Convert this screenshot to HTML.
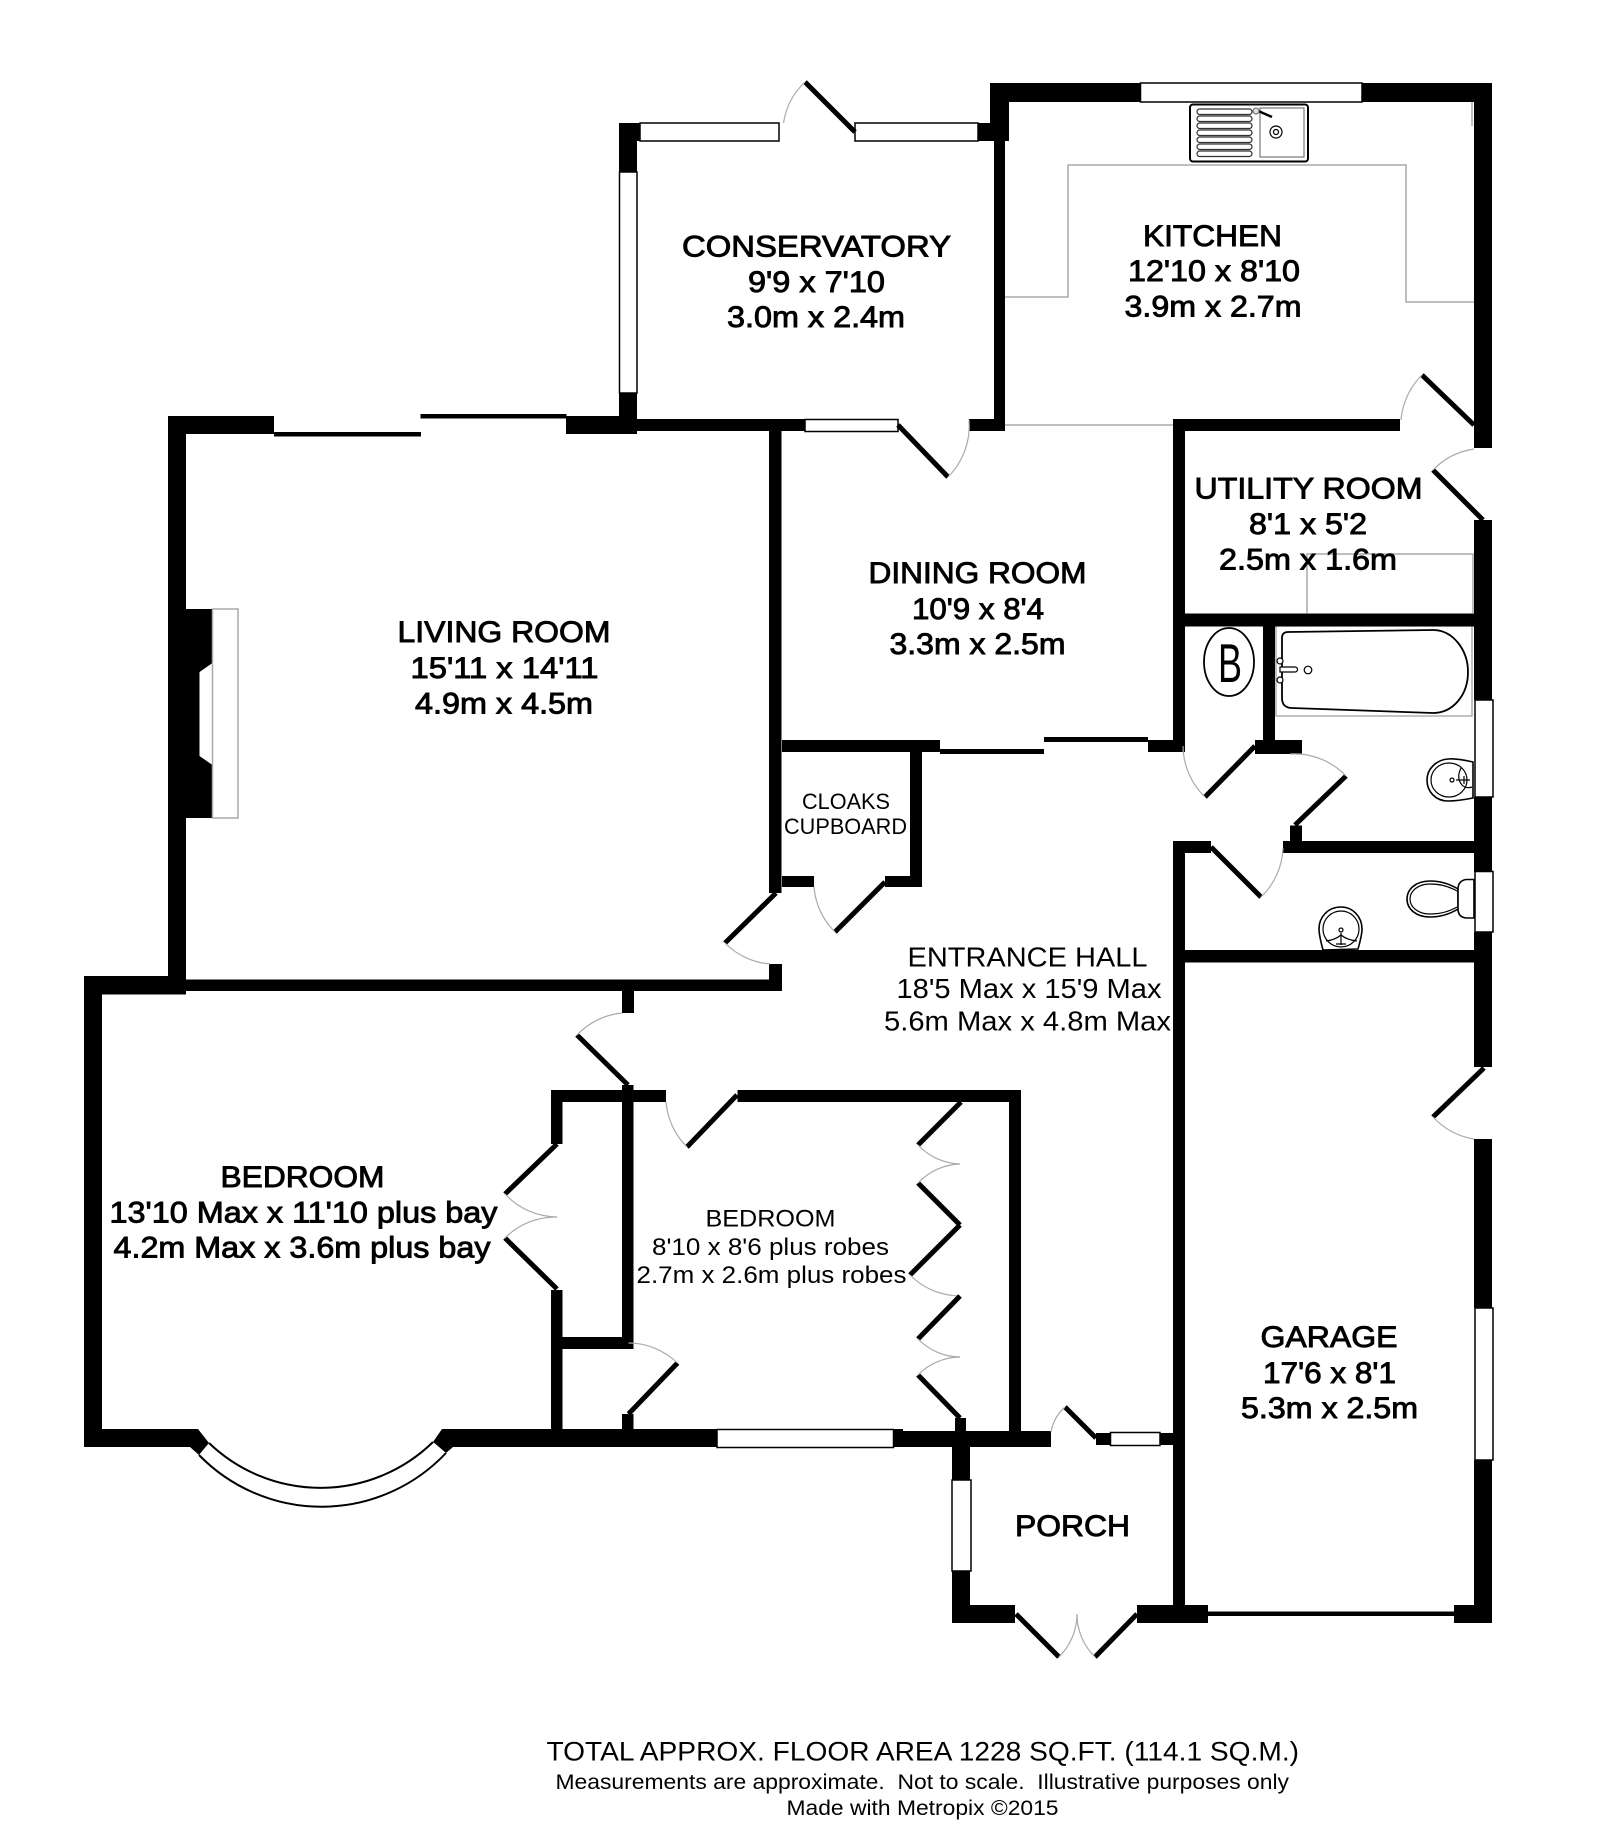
<!DOCTYPE html>
<html lang="en">
<head>
<meta charset="utf-8">
<title>Floor plan</title>
<style>
html,body{margin:0;padding:0;background:#fff}
svg{display:block}
text{font-family:"Liberation Sans",Arial,sans-serif;fill:#000}
.s{stroke:#000;stroke-width:.9}
.l{stroke:#000;stroke-width:5;fill:none}
.a{stroke:#aaa;stroke-width:1.2;fill:none}
.w{fill:#fff;stroke:#000;stroke-width:1.5}
.g{stroke:#aaa;stroke-width:1.5;fill:none}
.f{fill:#fff;stroke:#000;stroke-width:1.6}
.t{fill:none;stroke:#000;stroke-width:1.2}
</style>
</head>
<body>
<svg width="1600" height="1826" viewBox="0 0 1600 1826" xmlns="http://www.w3.org/2000/svg">
<rect width="1600" height="1826" fill="#fff"/>

<!-- grey worktops -->
<path class="g" d="M1005 297H1068V165H1406V302H1474"/>
<path class="g" d="M1472 102V126"/>
<path class="g" d="M1001 425H1178"/>
<path class="g" d="M1307 613V554H1473V613"/>
<rect x="1276" y="626" width="196" height="90" fill="#fff" stroke="#999" stroke-width="1.2"/>

<!-- walls -->
<g fill="#000">
<!-- kitchen -->
<rect x="990" y="83" width="150" height="19"/>
<rect x="1362" y="83" width="130" height="19"/>
<rect x="990" y="83" width="19" height="58"/>
<rect x="994" y="141" width="11" height="290"/>
<!-- conservatory -->
<rect x="619" y="123" width="21" height="18"/>
<rect x="978" y="123" width="31" height="18"/>
<rect x="619" y="123" width="18" height="50"/>
<rect x="619" y="393" width="18" height="40"/>
<!-- main horizontal band -->
<rect x="637" y="419" width="168" height="12"/>
<rect x="969" y="419" width="36" height="12"/>
<rect x="1173" y="419" width="227" height="12"/>
<!-- living room -->
<rect x="168" y="416" width="106" height="18"/>
<rect x="566" y="416" width="71" height="18"/>
<rect x="168" y="416" width="18" height="578"/>
<rect x="274" y="432" width="147" height="4.5"/>
<rect x="420.500" y="414" width="146" height="4.500"/>
<polygon points="186,609 212.500,609 212.500,663 199.500,672 199.500,756 212.500,765 212.500,818 186,818"/>
<rect x="186" y="979.500" width="596" height="11.500"/>
<rect x="769" y="431" width="12.500" height="462"/>
<rect x="769" y="964" width="13" height="27"/>
<!-- cupboard -->
<rect x="782" y="740" width="158" height="12"/>
<rect x="910" y="752" width="12" height="135"/>
<rect x="782" y="876" width="32" height="11"/>
<rect x="885" y="876" width="37" height="11"/>
<!-- dining sliders -->
<rect x="940" y="749" width="104" height="5"/>
<rect x="1044" y="737" width="104" height="5"/>
<rect x="1148" y="740" width="36" height="12"/>
<!-- utility/bath -->
<rect x="1173" y="419" width="12" height="333"/>
<rect x="1185" y="613.500" width="289" height="13"/>
<rect x="1263" y="626" width="12" height="115"/>
<rect x="1255" y="740" width="47" height="14"/>
<rect x="1290" y="825.500" width="12" height="20"/>
<rect x="1283" y="841" width="191" height="12"/>
<rect x="1173" y="841" width="38" height="12"/>
<rect x="1185" y="950" width="289" height="12.500"/>
<rect x="1173" y="841" width="12" height="781"/>
<!-- right wall -->
<rect x="1474" y="83" width="18" height="365"/>
<rect x="1474" y="520" width="18" height="180"/>
<rect x="1474" y="797" width="18" height="75"/>
<rect x="1474" y="932" width="18" height="135"/>
<rect x="1474" y="1139" width="18" height="169"/>
<rect x="1474" y="1460" width="18" height="163"/>
<!-- bottom garage/porch -->
<rect x="1454" y="1605" width="38" height="18"/>
<rect x="1208" y="1611.500" width="246" height="4.500"/>
<rect x="1137" y="1605" width="71" height="18"/>
<rect x="952" y="1605" width="63" height="18"/>
<rect x="952" y="1431" width="18" height="49"/>
<rect x="952" y="1571" width="18" height="52"/>
<rect x="955" y="1418" width="11" height="14"/>
<rect x="893" y="1431" width="158" height="16"/>
<rect x="1096" y="1433" width="14.500" height="12"/>
<rect x="1160" y="1433" width="13" height="12"/>
<!-- bedroom 1 -->
<rect x="84" y="976" width="102" height="18.500"/>
<rect x="84" y="976" width="18" height="471"/>
<polygon points="84,1429 198,1429 209,1443 199,1455 190,1447 84,1447"/>
<polygon points="442,1429 717,1429 717,1447 453,1447 446,1453 433,1442"/>
<rect x="622" y="990" width="12" height="23"/>
<!-- closet/bedroom 2 -->
<rect x="551" y="1090" width="115" height="12"/>
<rect x="737.500" y="1090" width="283.500" height="12"/>
<rect x="1009" y="1090" width="12" height="341"/>
<rect x="551" y="1090" width="11.500" height="54"/>
<rect x="551" y="1290" width="11.500" height="140"/>
<rect x="551" y="1337" width="82" height="12"/>
<rect x="622" y="1085" width="11.500" height="264"/>
<rect x="622" y="1414" width="11.500" height="16"/>
<rect x="893" y="1429" width="10" height="18"/>
</g>

<!-- windows -->
<rect class="w" x="1140.500" y="83" width="221.500" height="19"/>
<rect class="w" x="640" y="123" width="139" height="18"/>
<rect class="w" x="855" y="123" width="123" height="18"/>
<rect class="w" x="619.500" y="172" width="17.500" height="221"/>
<rect class="w" x="805" y="419.500" width="93" height="12"/>
<rect class="w" x="1475" y="700" width="18" height="97"/>
<rect class="w" x="1475" y="871.500" width="18" height="60.500"/>
<rect class="w" x="1475" y="1308" width="18" height="152"/>
<rect class="w" x="717" y="1429.500" width="176.500" height="18"/>
<rect class="w" x="1110.500" y="1432.500" width="49.500" height="13"/>
<rect class="w" x="952" y="1480" width="19" height="91"/>

<!-- bay window -->
<path d="M209 1443Q320 1530 433 1442L446 1453Q320 1558 199 1455Z" fill="#fff"/>
<path d="M209 1443A161 161 0 0 0 433 1442" fill="none" stroke="#000" stroke-width="2"/>
<path d="M199 1455A171 171 0 0 0 446 1453" fill="none" stroke="#000" stroke-width="2"/>

<!-- door leaves and swings -->
<path class="l" d="M855 132L805 82"/><path class="a" d="M805 82A71 71 0 0 0 783.500 123"/>
<path class="l" d="M898 425L948 477"/><path class="a" d="M948 477A72 72 0 0 0 969 420"/>
<path class="l" d="M1474 425L1422 375"/><path class="a" d="M1422 375A72 72 0 0 0 1401 420"/>
<path class="l" d="M1483 520L1433 470"/><path class="a" d="M1433 470A71 71 0 0 1 1474 449"/>
<path class="l" d="M1255 746L1205 797"/><path class="a" d="M1205 797A72 72 0 0 1 1183 746"/>
<path class="l" d="M1295 825L1346 776"/><path class="a" d="M1346 776A71 71 0 0 0 1290 754"/>
<path class="l" d="M1211 847L1261 897"/><path class="a" d="M1261 897A71 71 0 0 0 1283 848"/>
<path class="l" d="M885 882L835 932"/><path class="a" d="M835 932A71 71 0 0 1 814 887"/>
<path class="l" d="M776 893L725 943"/><path class="a" d="M725 943A71 71 0 0 0 770 964"/>
<path class="l" d="M628 1085L577 1035"/><path class="a" d="M577 1035A71 71 0 0 1 622 1013"/>
<path class="l" d="M737 1095L687 1147"/><path class="a" d="M687 1147A72 72 0 0 1 666 1102"/>
<path class="l" d="M628.500 1414L677.500 1363"/><path class="a" d="M677.500 1363A71 71 0 0 0 628.500 1343"/>
<path class="l" d="M557 1144L505 1194"/><path class="a" d="M505 1194A72 72 0 0 0 557 1217"/>
<path class="l" d="M557 1289L505 1238"/><path class="a" d="M505 1238A72 72 0 0 1 557 1217"/>
<path class="l" d="M961 1102L918 1145"/><path class="a" d="M918 1145A60 60 0 0 0 960 1164"/>
<path class="l" d="M960 1225L918 1183"/><path class="a" d="M918 1183A60 60 0 0 1 960 1164"/>
<path class="l" d="M960 1225L910 1275"/><path class="a" d="M910 1275A71 71 0 0 0 960 1296"/>
<path class="l" d="M960 1296L918 1339"/><path class="a" d="M918 1339A60 60 0 0 0 960 1357"/>
<path class="l" d="M960 1418L918 1375"/><path class="a" d="M918 1375A60 60 0 0 1 960 1357"/>
<path class="l" d="M1096 1438L1065 1407"/><path class="a" d="M1065 1407A44 44 0 0 0 1051 1432"/>
<path class="l" d="M1016 1614L1059 1657"/><path class="a" d="M1059 1657A61 61 0 0 0 1077 1614"/>
<path class="l" d="M1137 1614L1095 1657"/><path class="a" d="M1095 1657A60 60 0 0 1 1077 1614"/>
<path class="l" d="M1484 1068L1433 1117"/><path class="a" d="M1433 1117A71 71 0 0 0 1474 1139"/>

<!-- fireplace hearth -->
<rect x="212.500" y="609" width="25.500" height="209" fill="#fff" stroke="#aaa" stroke-width="1.5"/>

<!-- sink -->
<rect x="1190" y="104.500" width="118" height="57" rx="3" fill="#fff" stroke="#000" stroke-width="2"/>
<g fill="#fff" stroke="#333" stroke-width="1.200">
<rect x="1197" y="109" width="55" height="5.500" rx="2.700"/>
<rect x="1197" y="116" width="55" height="5.500" rx="2.700"/>
<rect x="1197" y="123" width="55" height="5.500" rx="2.700"/>
<rect x="1197" y="130" width="55" height="5.500" rx="2.700"/>
<rect x="1197" y="137" width="55" height="5.500" rx="2.700"/>
<rect x="1197" y="144" width="55" height="5.500" rx="2.700"/>
<rect x="1197" y="151" width="55" height="5.500" rx="2.700"/>
</g>
<rect x="1260" y="108" width="44" height="49" fill="#fff" stroke="#777" stroke-width="1.2"/>
<path d="M1256 110L1272 117" stroke="#000" stroke-width="2.500" fill="none"/>
<circle cx="1256" cy="111" r="3" fill="#ddd" stroke="#666"/>
<circle cx="1276" cy="132" r="6" class="t"/><circle cx="1276" cy="132" r="2.500" class="t"/>

<!-- bath -->
<path d="M1288 632L1433 630C1453 630 1468 650 1468 672C1468 695 1453 713 1433 713L1292 708C1285 708 1282 704 1282 698V638C1282 634 1284 632 1288 632Z" fill="#fff" stroke="#000" stroke-width="1.800"/>
<path d="M1280 667H1295a2.500 2.500 0 0 1 0 5H1280Z" fill="#fff" stroke="#000" stroke-width="1.200"/>
<circle cx="1280" cy="661" r="3" fill="#fff" stroke="#000" stroke-width="1.200"/>
<circle cx="1280" cy="680" r="3" fill="#fff" stroke="#000" stroke-width="1.200"/>
<circle cx="1308" cy="670" r="3.800" fill="#fff" stroke="#000" stroke-width="1.200"/>

<!-- boiler -->
<ellipse cx="1229" cy="662" rx="25" ry="34" fill="#fff" stroke="#000" stroke-width="1.800"/>
<text x="1218" y="682" font-size="55" textLength="24" lengthAdjust="spacingAndGlyphs">B</text>

<!-- bathroom basin -->
<path d="M1473 762Q1455 758 1448 759C1436 760 1427 769 1427 780C1427 792 1436 801 1448 801Q1458 801 1473 798Z" class="f"/>
<ellipse cx="1449" cy="780" rx="18" ry="17" class="t"/>
<path d="M1461 768Q1456 778 1462 785Q1466 789 1472 787" class="t"/>
<path d="M1456 780H1470M1464 776v8" class="t"/>
<circle cx="1452" cy="780" r="2" class="t"/>

<!-- WC -->
<path d="M1458 889Q1445 881 1430 881C1416 881 1407 889 1407 899C1407 909 1416 917 1430 917Q1445 917 1458 909Z" class="f"/>
<path d="M1457 891Q1445 884 1430 884C1418 884 1410 891 1410 899C1410 907 1418 914 1430 914Q1445 914 1457 907" class="t"/>
<path d="M1474 879.500H1466Q1458 881 1458 889V909Q1458 917 1466 918H1474Z" class="f"/>

<!-- WC basin -->
<path d="M1323 950Q1319 935 1319 929C1319 917 1328 907 1341 907C1353 907 1362 917 1362 929Q1362 935 1358 949Z" class="f"/>
<circle cx="1341" cy="929" r="18" class="t"/>
<path d="M1326 941Q1335 940 1341 935Q1347 940 1357 941" class="t"/>
<path d="M1341 933V945M1336 944H1346" class="t"/>
<circle cx="1341" cy="930" r="2" class="t"/>

<!-- labels -->
<g font-size="30" class="s">
<text class="s" x="682" y="256.500" textLength="269" lengthAdjust="spacingAndGlyphs">CONSERVATORY</text>
<text class="s" x="748" y="292" textLength="137" lengthAdjust="spacingAndGlyphs">9'9 x 7'10</text>
<text class="s" x="727" y="327" textLength="178" lengthAdjust="spacingAndGlyphs">3.0m x 2.4m</text>
<text class="s" x="1143" y="246" textLength="139" lengthAdjust="spacingAndGlyphs">KITCHEN</text>
<text class="s" x="1128" y="281" textLength="172" lengthAdjust="spacingAndGlyphs">12'10 x 8'10</text>
<text class="s" x="1124.500" y="316.500" textLength="177" lengthAdjust="spacingAndGlyphs">3.9m x 2.7m</text>
<text class="s" x="1194.500" y="498.500" textLength="228" lengthAdjust="spacingAndGlyphs">UTILITY ROOM</text>
<text class="s" x="1249" y="534" textLength="118" lengthAdjust="spacingAndGlyphs">8'1 x 5'2</text>
<text class="s" x="1219" y="569.500" textLength="178" lengthAdjust="spacingAndGlyphs">2.5m x 1.6m</text>
<text class="s" x="868.500" y="583" textLength="218" lengthAdjust="spacingAndGlyphs">DINING ROOM</text>
<text class="s" x="912" y="619" textLength="132" lengthAdjust="spacingAndGlyphs">10'9 x 8'4</text>
<text class="s" x="889.500" y="654" textLength="176" lengthAdjust="spacingAndGlyphs">3.3m x 2.5m</text>
<text class="s" x="397.500" y="642" textLength="213" lengthAdjust="spacingAndGlyphs">LIVING ROOM</text>
<text class="s" x="410.500" y="678" textLength="188" lengthAdjust="spacingAndGlyphs">15'11 x 14'11</text>
<text class="s" x="415" y="713.500" textLength="178" lengthAdjust="spacingAndGlyphs">4.9m x 4.5m</text>
<text class="s" x="220.500" y="1187" textLength="164" lengthAdjust="spacingAndGlyphs">BEDROOM</text>
<text class="s" x="109.500" y="1222.500" textLength="388" lengthAdjust="spacingAndGlyphs">13'10 Max x 11'10 plus bay</text>
<text class="s" x="113.500" y="1257.500" textLength="377" lengthAdjust="spacingAndGlyphs">4.2m Max x 3.6m plus bay</text>
<text class="s" x="1260.500" y="1347" textLength="137" lengthAdjust="spacingAndGlyphs">GARAGE</text>
<text class="s" x="1263" y="1383" textLength="133" lengthAdjust="spacingAndGlyphs">17'6 x 8'1</text>
<text class="s" x="1241" y="1418" textLength="177" lengthAdjust="spacingAndGlyphs">5.3m x 2.5m</text>
<text class="s" x="1015" y="1536" textLength="115" lengthAdjust="spacingAndGlyphs">PORCH</text>
</g>
<g font-size="28">
<text x="907.500" y="966.500" textLength="240" lengthAdjust="spacingAndGlyphs">ENTRANCE HALL</text>
<text x="896.500" y="998" textLength="265" lengthAdjust="spacingAndGlyphs">18'5 Max x 15'9 Max</text>
<text x="884" y="1030.500" textLength="287" lengthAdjust="spacingAndGlyphs">5.6m Max x 4.8m Max</text>
</g>
<g font-size="22">
<text x="802" y="809" textLength="88" lengthAdjust="spacingAndGlyphs">CLOAKS</text>
<text x="784" y="834" textLength="123" lengthAdjust="spacingAndGlyphs">CUPBOARD</text>
</g>
<g font-size="24">
<text x="705.500" y="1226.500" textLength="130" lengthAdjust="spacingAndGlyphs">BEDROOM</text>
<text x="652" y="1255" textLength="237" lengthAdjust="spacingAndGlyphs">8'10 x 8'6 plus robes</text>
<text x="636.500" y="1283" textLength="270" lengthAdjust="spacingAndGlyphs">2.7m x 2.6m plus robes</text>
</g>

<!-- footer -->
<text x="546.500" y="1760.500" font-size="26.500" textLength="752.500" lengthAdjust="spacingAndGlyphs">TOTAL APPROX. FLOOR AREA 1228 SQ.FT. (114.1 SQ.M.)</text>
<text x="555.500" y="1789" font-size="21" textLength="733.500" lengthAdjust="spacingAndGlyphs" xml:space="preserve">Measurements are approximate.  Not to scale.  Illustrative purposes only</text>
<text x="786.500" y="1815" font-size="21" textLength="272" lengthAdjust="spacingAndGlyphs">Made with Metropix ©2015</text>
</svg>
</body>
</html>
